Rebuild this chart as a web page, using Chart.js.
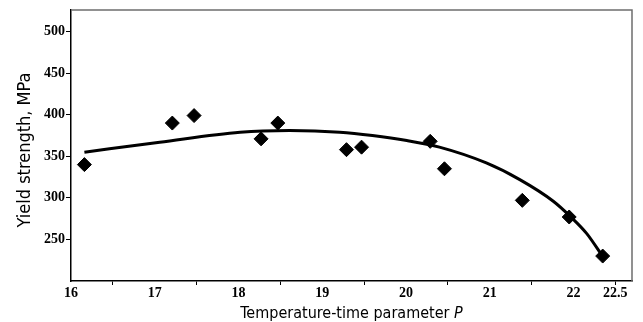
<html>
<head>
  <title>Yield strength vs temperature-time parameter</title>
  <script src="https://cdn.jsdelivr.net/npm/chart.js"></script>
  <style>
    body { margin: 0; background: #fff; }
    #wrap { width: 643px; height: 322px; }
  </style>
</head>
<body>
  <div id="wrap"><canvas id="yieldChart" width="643" height="322"></canvas></div>

  <script>
    // measured points
    const pValues = [16.16, 17.21, 17.47, 18.27, 18.47, 19.29, 19.47, 20.29, 20.46, 21.39, 21.95, 22.35];
    const yieldValues = [340, 390, 399, 371, 390, 358, 361, 368, 335, 297, 277, 230];

    // fitted curve, sampled off the figure
    const curveP = [16.16, 17.06, 18.02, 18.61, 19.21, 19.6, 20.01, 20.4, 20.96, 21.36, 21.76, 21.96, 22.16, 22.36];
    const curveYield = [355, 367, 379, 381, 379, 375, 369, 361, 342, 322, 296, 278, 257, 228];

    // axis ticks
    const xTickValues = [16, 16.5, 17, 17.5, 18, 18.5, 19, 19.5, 20, 20.5, 21, 21.5, 22, 22.5];
    const xTickLabels = ['16', '', '17', '', '18', '', '19', '', '20', '', '21', '', '22', '22.5'];
    const yTickValues = [250, 300, 350, 400, 450, 500];

    const tickFont = { family: 'Liberation Serif', size: 14, weight: 'bold' };
    const titleFamily = '"DejaVu Sans Condensed", "DejaVu Sans"';

    // draws the gray top/right frame and both axis titles (x title has an italic P)
    const framePlugin = {
      id: 'frame',
      afterDraw(chart) {
        const { ctx, chartArea: a } = chart;
        ctx.save();
        ctx.strokeStyle = '#6e6e6e';
        ctx.lineWidth = 1.5;
        ctx.beginPath();
        ctx.moveTo(a.left, a.top);
        ctx.lineTo(a.right, a.top);
        ctx.lineTo(a.right, a.bottom);
        ctx.stroke();

        ctx.fillStyle = '#000';
        ctx.textBaseline = 'alphabetic';
        const main = 'Temperature-time parameter ';
        ctx.font = '16px ' + titleFamily;
        const w1 = ctx.measureText(main).width;
        ctx.font = 'italic 16px ' + titleFamily;
        const w2 = ctx.measureText('P').width;
        const cx = (a.left + a.right) / 2;
        const x0 = cx - (w1 + w2) / 2;
        ctx.textAlign = 'left';
        ctx.font = '16px ' + titleFamily;
        ctx.fillText(main, x0, 318);
        ctx.font = 'italic 16px ' + titleFamily;
        ctx.fillText('P', x0 + w1, 318);

        ctx.translate(25, 150);
        ctx.rotate(-Math.PI / 2);
        ctx.textAlign = 'center';
        ctx.textBaseline = 'middle';
        ctx.font = '18px ' + titleFamily;
        ctx.fillText('Yield strength, MPa', 0, 0);
        ctx.restore();
      }
    };

    const ctx = document.getElementById('yieldChart').getContext('2d');
    const yieldChart = new Chart(ctx, {
      type: 'scatter',
      data: {
        datasets: [
          {
            type: 'line',
            label: 'fit',
            data: curveP.map((p, i) => ({ x: p, y: curveYield[i] })),
            borderColor: '#000',
            borderWidth: 3,
            pointRadius: 0,
            cubicInterpolationMode: 'monotone',
            fill: false
          },
          {
            label: 'measured',
            data: pValues.map((p, i) => ({ x: p, y: yieldValues[i] })),
            pointStyle: 'rectRot',
            pointRadius: 7,
            backgroundColor: '#000',
            borderColor: '#000'
          }
        ]
      },
      options: {
        responsive: false,
        animation: false,
        layout: { padding: { top: 10, right: 11, left: 0, bottom: 0 } },
        plugins: {
          legend: { display: false },
          tooltip: { enabled: false }
        },
        scales: {
          x: {
            type: 'linear',
            min: 16,
            max: 22.7,
            afterBuildTicks: s => { s.ticks = xTickValues.map(v => ({ value: v })); },
            afterFit: s => { s.height = 41; },
            border: { color: '#000', width: 1.5 },
            grid: {
              drawOnChartArea: false,
              tickLength: 4,
              tickColor: c => (c.tick && c.tick.value % 1 !== 0 ? '#000' : 'rgba(0,0,0,0)')
            },
            ticks: {
              color: '#000',
              font: tickFont,
              padding: 0,
              maxRotation: 0,
              autoSkip: false,
              callback: (v, i) => xTickLabels[i]
            }
          },
          y: {
            min: 200,
            max: 526,
            afterBuildTicks: s => { s.ticks = yTickValues.map(v => ({ value: v })); },
            afterFit: s => { s.width = 71; },
            border: { color: '#000', width: 1.5 },
            grid: { drawOnChartArea: false, tickLength: 5, tickColor: '#000' },
            ticks: { color: '#000', font: tickFont, padding: 1 }
          }
        }
      },
      plugins: [framePlugin]
    });
  </script>
</body>
</html>
